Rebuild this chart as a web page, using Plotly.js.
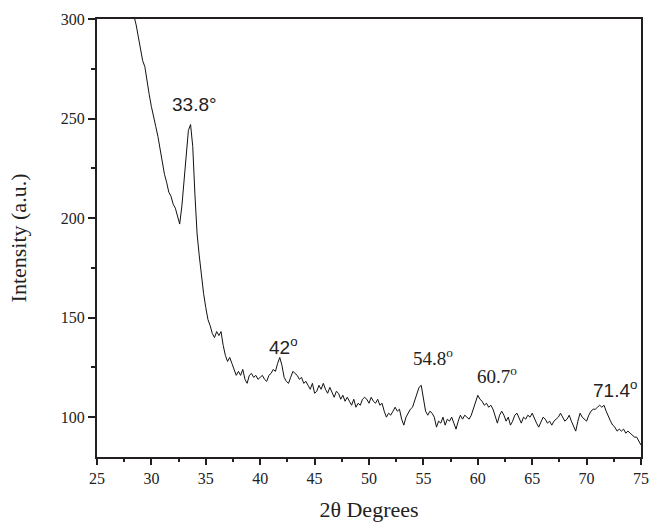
<!DOCTYPE html>
<html>
<head>
<meta charset="utf-8">
<script src="https://cdn.plot.ly/plotly-3.0.1.min.js"></script>
<style>html,body{margin:0;padding:0;background:#fff;}#chart{width:649px;height:522px;}</style>
</head>
<body>
<div id="chart"></div>
<script>
// 2-theta positions (degrees)
const twoTheta = [
  28.2, 28.4, 28.6, 28.8,
  29.0, 29.2, 29.4, 29.6, 29.8,
  30.0, 30.2, 30.4, 30.6, 30.8,
  31.0, 31.2, 31.4, 31.6, 31.8,
  32.0, 32.2, 32.4, 32.6, 32.8,
  33.0, 33.2, 33.4, 33.6, 33.8,
  34.0, 34.2, 34.4, 34.6, 34.8,
  35.0, 35.2, 35.4, 35.6, 35.8,
  36.0, 36.2, 36.4, 36.6, 36.8,
  37.0, 37.2, 37.4, 37.6, 37.8,
  38.0, 38.2, 38.4, 38.6, 38.8,
  39.0, 39.2, 39.4, 39.6, 39.8,
  40.0, 40.2, 40.4, 40.6, 40.8,
  41.0, 41.2, 41.4, 41.6, 41.8,
  42.0, 42.2, 42.4, 42.6, 42.8,
  43.0, 43.2, 43.4, 43.6, 43.8,
  44.0, 44.2, 44.4, 44.6, 44.8,
  45.0, 45.2, 45.4, 45.6, 45.8,
  46.0, 46.2, 46.4, 46.6, 46.8,
  47.0, 47.2, 47.4, 47.6, 47.8,
  48.0, 48.2, 48.4, 48.6, 48.8,
  49.0, 49.2, 49.4, 49.6, 49.8,
  50.0, 50.2, 50.4, 50.6, 50.8,
  51.0, 51.2, 51.4, 51.6, 51.8,
  52.0, 52.2, 52.4, 52.6, 52.8,
  53.0, 53.2, 53.4, 53.6, 53.8,
  54.0, 54.2, 54.4, 54.6, 54.8,
  55.0, 55.2, 55.4, 55.6, 55.8,
  56.0, 56.2, 56.4, 56.6, 56.8,
  57.0, 57.2, 57.4, 57.6, 57.8,
  58.0, 58.2, 58.4, 58.6, 58.8,
  59.0, 59.2, 59.4, 59.6, 59.8,
  60.0, 60.2, 60.4, 60.6, 60.8,
  61.0, 61.2, 61.4, 61.6, 61.8,
  62.0, 62.2, 62.4, 62.6, 62.8,
  63.0, 63.2, 63.4, 63.6, 63.8,
  64.0, 64.2, 64.4, 64.6, 64.8,
  65.0, 65.2, 65.4, 65.6, 65.8,
  66.0, 66.2, 66.4, 66.6, 66.8,
  67.0, 67.2, 67.4, 67.6, 67.8,
  68.0, 68.2, 68.4, 68.6, 68.8,
  69.0, 69.2, 69.4, 69.6, 69.8,
  70.0, 70.2, 70.4, 70.6, 70.8,
  71.0, 71.2, 71.4, 71.6, 71.8,
  72.0, 72.2, 72.4, 72.6, 72.8,
  73.0, 73.2, 73.4, 73.6, 73.8,
  74.0, 74.2, 74.4, 74.6, 74.8,
  75.0
];
// Intensity (a.u.)
const intensity = [
  306, 302, 297, 291,
  285, 279, 276, 268, 262,
  256, 250, 246, 241, 234,
  229, 222, 218, 213, 211,
  207, 205, 201, 197, 206,
  220, 234, 244, 247, 236,
  212, 192, 181, 170, 162,
  155, 149, 146, 142, 140,
  143, 141, 143, 136, 131,
  128, 130, 127, 124, 121,
  123, 121, 124, 119, 117,
  121, 122, 120, 121, 119,
  120, 121, 119, 118, 121,
  122, 124, 123, 127, 130,
  126, 120, 118, 117, 120,
  123, 122, 121, 119, 120,
  117, 118, 116, 114, 117,
  112, 113, 116, 114, 117,
  114, 112, 115, 112, 110,
  113, 112, 109, 111, 108,
  110, 108, 106, 109, 105,
  107, 106, 109, 110, 109,
  107, 110, 108, 107, 109,
  106, 107, 103, 100, 102,
  101, 103, 105, 103, 104,
  99, 96, 100, 102, 104,
  105, 108, 111, 115, 116,
  110, 103, 101, 103, 102,
  100, 95, 98, 97, 100,
  96, 99, 98, 100, 97,
  94, 98, 101, 99, 101,
  100, 99, 101, 104, 107,
  111, 109, 108, 106, 107,
  105, 106, 104, 101, 97,
  101, 103, 101, 98, 100,
  96, 98, 101, 102, 99,
  97, 100, 99, 101, 100,
  102, 99, 97, 95, 98,
  100, 99, 97, 98, 96,
  98, 99, 100, 102, 100,
  98, 99, 101, 98, 95,
  93, 98, 102, 100, 99,
  98, 101, 103, 104, 104,
  105, 106, 105, 106, 103,
  100, 98, 96, 95, 93,
  94, 93, 94, 92, 93,
  92, 91, 90, 90, 88,
  86
];
// Peak labels
const peakLabels = ["33.8°", "42<sup>o</sup>", "54.8<sup>o</sup>", "60.7<sup>o</sup>", "71.4<sup>o</sup>"];
const peakLabelX = [34.0, 42.1, 55.9, 61.8, 72.6];
const peakLabelY = [257, 136, 130, 121, 114];
const peakFonts = ["Liberation Sans", "Liberation Sans", "Liberation Serif", "Liberation Serif", "Liberation Sans"];

const xTickVals = [25, 30, 35, 40, 45, 50, 55, 60, 65, 70, 75];
const yTickVals = [100, 150, 200, 250, 300];

const axisColor = '#231f20';
const serif = 'Liberation Serif, Times New Roman, serif';

const trace = {
  type: 'scatter', mode: 'lines',
  x: twoTheta, y: intensity,
  line: {color: '#111', width: 1},
  hoverinfo: 'skip'
};

const annotations = peakLabels.map((t, i) => ({
  x: peakLabelX[i], y: peakLabelY[i], xref: 'x', yref: 'y',
  text: t, showarrow: false,
  font: {family: peakFonts[i], size: 19, color: '#222'}
}));

const layout = {
  width: 649, height: 522,
  margin: {l: 97, r: 8, t: 19, b: 65},
  paper_bgcolor: '#fff', plot_bgcolor: '#fff',
  showlegend: false,
  xaxis: {
    range: [25, 75], tickvals: xTickVals, ticktext: xTickVals.map(String),
    ticks: 'outside', ticklen: 6, tickwidth: 2, tickcolor: axisColor,
    minor: {dtick: 2.5, tick0: 25, ticks: 'outside', ticklen: 3, tickwidth: 2, tickcolor: axisColor},
    showline: true, linecolor: axisColor, linewidth: 2, mirror: true,
    showgrid: false, zeroline: false,
    tickfont: {family: serif, size: 16, color: '#222'},
    title: {text: '2θ Degrees', font: {family: serif, size: 22, color: '#222'}, standoff: 18}
  },
  yaxis: {
    range: [80, 300], tickvals: yTickVals, ticktext: yTickVals.map(String),
    ticks: 'outside', ticklen: 7, tickwidth: 2, tickcolor: axisColor,
    minor: {dtick: 25, tick0: 0, ticks: 'outside', ticklen: 4, tickwidth: 2, tickcolor: axisColor},
    showline: true, linecolor: axisColor, linewidth: 2, mirror: true,
    showgrid: false, zeroline: false,
    tickfont: {family: serif, size: 16, color: '#222'},
    title: {text: 'Intensity (a.u.)', font: {family: serif, size: 22, color: '#222'}, standoff: 28}
  },
  annotations: annotations
};

Plotly.newPlot('chart', [trace], layout, {displayModeBar: false, staticPlot: true});
</script>
</body>
</html>
